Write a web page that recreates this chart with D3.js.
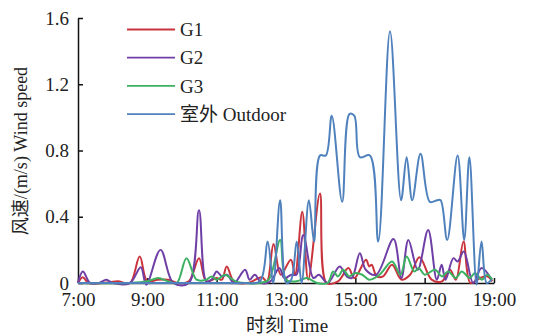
<!DOCTYPE html>
<html>
<head>
<meta charset="utf-8">
<script src="https://cdn.jsdelivr.net/npm/d3@7"></script>
<style>
  body { margin: 0; background: #fff; }
  svg text { font-family: "Liberation Serif", "Noto Sans CJK SC", serif; fill: #222; }
</style>
</head>
<body>
<figure id="chart" style="margin:0"></figure>
<script>
// time in decimal hours, wind speed in m/s
const xTicks = [7, 9, 11, 13, 15, 17, 19];
const xTickLabels = ["7:00", "9:00", "11:00", "13:00", "15:00", "17:00", "19:00"];
const yTicks = [0, 0.4, 0.8, 1.2, 1.6];
const yTickLabels = ["0", "0.4", "0.8", "1.2", "1.6"];
const seriesNames = ["G1", "G2", "G3", "室外 Outdoor"];

const g1 = [
  [7.0,0],[7.14,0.035],[7.3,0],[7.9,0.005],[8.15,0.01],[8.5,0],[8.78,0.16],[9.0,0.01],[9.3,0.02],
  [9.6,0.02],[9.9,0],[10.2,0.01],[10.49,0.15],[10.7,0.01],[11.0,0.03],[11.15,0.02],[11.29,0.1],
  [11.5,0.01],[11.9,0],[12.3,0.035],[12.45,0.01],[12.64,0.235],[12.85,0.05],[13.14,0.14],[13.26,0.05],
  [13.47,0.43],[13.64,0.02],[13.98,0.54],[14.17,0],[14.5,0.01],[14.8,0.09],[14.97,0.03],[15.31,0.14],
  [15.4,0.1],[15.47,0.11],[15.62,0.04],[15.8,0.04],[16.06,0.11],[16.33,0.02],[16.58,0.05],[16.85,0.155],
  [17.2,0.02],[17.5,0.01],[17.73,0.08],[17.9,0.02],[18.12,0.25],[18.32,0],[18.6,0.03],[18.8,0.04],[18.95,0.01]
];

const g2 = [
  [7.0,0],[7.14,0.07],[7.35,0],[7.6,0],[7.82,0.02],[8.0,0],[8.5,0],[8.81,0.095],[8.97,-0.01],
  [9.38,0.2],[9.75,0],[10.2,0],[10.49,0.44],[10.7,0.01],[10.85,0.02],[11.0,0.07],[11.15,0.04],
  [11.3,0.05],[11.5,0],[11.82,0.08],[11.95,0.02],[12.1,0.05],[12.3,0],[12.55,0.01],[12.81,0.09],
  [12.95,0.03],[13.16,0.05],[13.3,0.05],[13.5,0.29],[13.79,0.03],[13.95,0.05],[14.2,0],[14.55,0.1],
  [14.75,0.04],[14.9,0.03],[15.13,0.18],[15.3,0.08],[15.6,0.05],[16.1,0.265],[16.33,0.03],[16.53,0.26],
  [16.8,0.08],[17.1,0.32],[17.35,0.02],[17.49,0.11],[17.6,0.02],[17.83,0.15],[17.95,0.13],[18.13,0.19],
  [18.4,0],[18.64,0.09],[18.93,0.02]
];

const g3 = [
  [7,0],[8.5,0],[9.0,0.01],[9.31,0.03],[9.6,0.01],[9.85,0],[10.13,0.15],[10.42,0.02],[10.7,0.02],
  [10.85,0.04],[11.0,0.02],[11.24,0.05],[11.4,0.03],[11.55,0.01],[11.8,0],[12.2,0],[12.5,0.02],
  [12.83,0.26],[13.0,0.02],[13.3,0.01],[13.6,0.03],[13.9,0],[14.2,0],[14.36,0.07],[14.5,0.04],
  [14.65,0.08],[14.82,0.04],[15.0,0.06],[15.2,0.05],[15.4,0.02],[15.7,0.05],[16.06,0.13],[16.3,0.05],
  [16.48,0.16],[16.7,0.07],[16.83,0.09],[17.0,0.05],[17.3,0.08],[17.5,0.04],[17.68,0.07],[17.9,0.03],
  [18.07,0.07],[18.3,0.03],[18.45,0.06],[18.65,0.02],[18.8,0.05],[18.95,0.02]
];

const outdoor = [
  [7,0],[8,0],[9,0],[10,0],[11,0],[11.8,0],[12.25,0.01],[12.47,0.25],[12.63,0],[12.83,0.5],
  [13.01,0],[13.15,0.02],[13.31,0.25],[13.45,0],[13.66,0.5],[13.81,0.25],[13.98,0.77],[14.15,0.77],
  [14.32,1.01],[14.62,0.49],[14.83,1.02],[14.97,1.01],[15.13,0.76],[15.42,0.77],[15.66,0.25],
  [16.0,1.52],[16.32,0.5],[16.48,0.76],[16.64,0.5],[16.88,0.78],[17.15,0.49],[17.36,0.5],[17.46,0.5],
  [17.65,0.26],[17.95,0.77],[18.14,0.26],[18.29,0.76],[18.5,-0.01],[18.64,0.25],[18.79,0],[18.93,0.02]
];

const colors = ["#c9343c", "#6f3fa6", "#3bb161", "#4f81bd"];

const margin = { top: 18, right: 40, bottom: 53, left: 78 };
const width = 534 - margin.left - margin.right;
const height = 336 - margin.top - margin.bottom;

const svg = d3.select("figure#chart")
  .append("svg")
  .attr("width", 534)
  .attr("height", 336);

const g = svg.append("g")
  .attr("transform", "translate(" + margin.left + "," + margin.top + ")");

const x = d3.scaleLinear().domain([7, 19]).range([0, 416]);
const y = d3.scaleLinear().domain([0, 1.6]).range([height, 0]);

// axes
const xAxis = g.append("g")
  .attr("transform", "translate(0," + height + ")")
  .call(d3.axisBottom(x)
    .tickValues(xTicks)
    .tickFormat((d, i) => xTickLabels[i])
    .tickSizeInner(-5)
    .tickSizeOuter(0)
    .tickPadding(10));

const yAxis = g.append("g")
  .call(d3.axisLeft(y)
    .tickValues(yTicks)
    .tickFormat((d, i) => yTickLabels[i])
    .tickSizeInner(-5)
    .tickSizeOuter(0)
    .tickPadding(9));

[xAxis, yAxis].forEach(a => {
  a.select(".domain").attr("stroke", "#111").attr("stroke-width", 1.5);
  a.selectAll(".tick line").attr("stroke", "#111").attr("stroke-width", 1.5);
  a.selectAll("text").attr("font-size", 19).attr("fill", "#222")
    .style("font-family", '"Liberation Serif", serif');
});

// lines
const line = d3.line()
  .x(d => x(d[0]))
  .y(d => y(d[1]))
  .curve(d3.curveCatmullRom.alpha(0.5));

[g1, g2, g3, outdoor].forEach((s, i) => {
  g.append("path")
    .datum(s)
    .attr("fill", "none")
    .attr("stroke", colors[i])
    .attr("stroke-width", 2)
    .attr("d", line);
});

// legend
const legend = svg.append("g");
seriesNames.forEach((name, i) => {
  const ly = 29.5 + i * 28.2;
  legend.append("line")
    .attr("x1", 127).attr("x2", 175)
    .attr("y1", ly).attr("y2", ly)
    .attr("stroke", colors[i]).attr("stroke-width", 1.8);
  legend.append("text")
    .attr("x", 180).attr("y", ly)
    .attr("dy", "0.35em")
    .attr("font-size", 19)
    .text(name);
});

// axis titles
svg.append("text")
  .attr("x", 287).attr("y", 332)
  .attr("text-anchor", "middle")
  .attr("font-size", 19)
  .text("时刻 Time");

svg.append("text")
  .attr("transform", "translate(27,151) rotate(-90)")
  .attr("text-anchor", "middle")
  .attr("font-size", 18)
  .text("风速/(m/s) Wind speed");
</script>
</body>
</html>
